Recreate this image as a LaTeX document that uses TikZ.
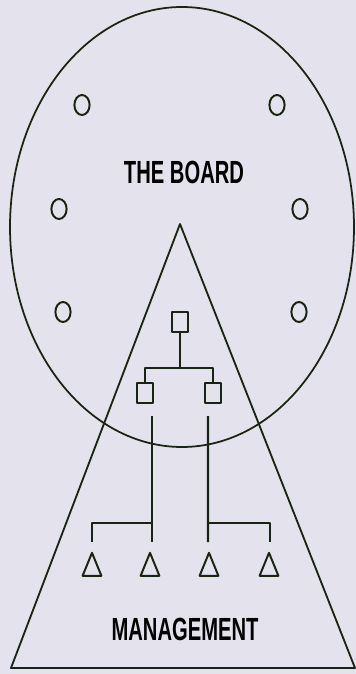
\documentclass[tikz,border=0pt]{standalone}
\usepackage{fontspec}
\newfontfamily\labelfont{Liberation Sans}[FakeStretch=0.63]
\usetikzlibrary{positioning,shapes.geometric,calc}
\definecolor{cBack}{HTML}{E4E2EC}
\definecolor{cLine}{HTML}{1A2412}

\begin{document}
\begin{tikzpicture}[
  line join=round,
  member/.style={
    draw=cLine, line width=1.4pt, ellipse, inner sep=0pt,
    minimum width=0.38cm, minimum height=0.5cm,
  },
  mgrbox/.style={
    draw=cLine, line width=1.5pt, rectangle, inner sep=0pt,
    minimum width=0.38cm, minimum height=0.5cm,
  },
  staff/.style={
    draw=cLine, line width=1.4pt, isosceles triangle, isosceles triangle stretches,
    shape border rotate=90, inner sep=0pt, minimum width=0.47cm, minimum height=0.575cm,
  },
  treeline/.style={draw=cLine, line width=1.7pt},
  title/.style={font=\labelfont\bfseries\fontsize{22.8}{24}\selectfont, inner sep=0pt},
]

\fill[cBack] (0,0) rectangle (8.9,16.85);
\useasboundingbox (0,0) rectangle (8.9,16.85);

% --- the board (ellipse) and management (triangle) ---
\coordinate (board) at (4.55,11.175);
\coordinate (apex) at (4.5,11.25);
\coordinate (baseL) at (0.275,0.15);
\coordinate (baseR) at (8.875,0.15);

\draw[cLine, line width=1.25pt] (board) ellipse [x radius=4.3, y radius=5.5];
\draw[cLine, line width=1.3pt] (apex) -- (baseL) -- (baseR) -- cycle;

% Board members round the edge.
\node[member] (m1) at (2.05,14.225) {};
\node[member] (m2) at (6.925,14.225) {};
\node[member] (m3) at (1.475,11.625) {};
\node[member] (m4) at (7.5,11.625) {};
\node[member] (m5) at (1.575,9.05) {};
\node[member] (m6) at (7.475,9.05) {};

\node[title] (lboard) at (4.6,12.55) {THE BOARD};
\node[title] (lmgmt) at (4.625,1.125) {MANAGEMENT};

% --- tree: chief, directors, staff ---
\node[mgrbox] (chief) at (4.5,8.8) {};
\node[mgrbox] (dirL) at (3.625,7.025) {};
\node[mgrbox] (dirR) at (5.325,7.025) {};
\coordinate (split) at (4.5,7.65);

\draw[treeline] (chief.south) -- (split);
\draw[treeline] (dirL.north) |- (split) -| (dirR.north);

\node[staff] (s1) at (2.3,2.6125) {};
\node[staff] (s2) at (3.75,2.6125) {};
\node[staff] (s3) at (5.225,2.6125) {};
\node[staff] (s4) at (6.725,2.6125) {};
\coordinate (legL) at (3.8,3.775);
\coordinate (legR) at (5.2,3.775);

\draw[treeline] ($(dirL.south)+(0.175,-0.3)$) -- ($(s2.north)+(0.05,0.2)$);
\draw[treeline] ($(dirR.south)+(-0.125,-0.3)$) -- ($(s3.north)+(-0.025,0.2)$);
\draw[treeline] ($(s1.north)+(0,0.2)$) |- (legL);
\draw[treeline] ($(s4.north)+(0.025,0.2)$) |- (legR);

\end{tikzpicture}
\end{document}
